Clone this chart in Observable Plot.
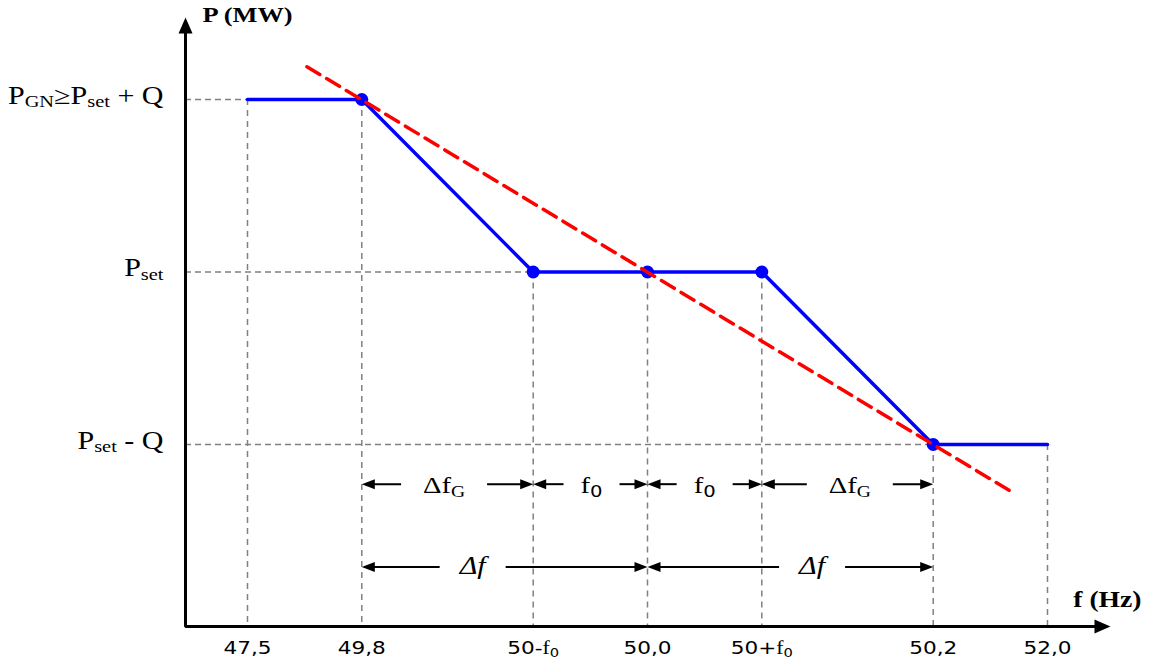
<!DOCTYPE html>
<html><head><meta charset="utf-8">
<script src="https://cdn.jsdelivr.net/npm/d3@7"></script>
<script src="https://cdn.jsdelivr.net/npm/@observablehq/plot@0.6"></script>
<style>html,body{margin:0;padding:0;background:#fff;overflow:hidden}</style>
</head><body><div id="chart"></div>
<script>
// ---- data (schematic units) ----
const fLabels = ["47,5", "49,8", "50-f_0", "50,0", "50+f_0", "50,2", "52,0"];
const fPos = [0, 1, 2.5, 3.5, 4.5, 6, 7];          // schematic frequency positions
const curveP = [1, 1, 0, 0, 0, -1, -1];             // blue P(f) characteristic
const kneeIdx = [1, 2, 3, 4, 5];                    // dots on the characteristic
const pLevels = [1, 0, -1];
const pLabels = ["P_GN≥P_set + Q", "P_set", "P_set - Q"];
const droopF = [0.52, 6.7];                         // red dashed droop line
const droopP = [1.19, -1.28];
const dimFrom = [1, 2.5, 3.5, 4.5, 1, 3.5];
const dimTo = [2.5, 3.5, 4.5, 6, 3.5, 6];
const dimLabel = ["Δf_G", "f_0", "f_0", "Δf_G", "Δf", "Δf"];
const dimLabelAt = [1.72, 3.01, 4.0, 5.27, 1.97, 4.94];
const dimRow = [-1.23, -1.23, -1.23, -1.23, -1.71, -1.71];
const axisF = [-0.5425, 7.551];
const axisP = [-2.055, 1.475];
const yTitle = "P (MW)";
const xTitle = "f (Hz)";

// ---- layout ----
const W = 1150, H = 668;
const xDom = [0, 7], xRng = [247, 1047];
const yDom = [-1, 1], yRng = [444, 99];
const ux = (xDom[1] - xDom[0]) / (xRng[1] - xRng[0]);      // units per px (x)
const uy = (yDom[1] - yDom[0]) / (yRng[0] - yRng[1]);      // units per px (y)
const gapPx = {"Δf_G": 43, "f_0": 28, "Δf": 33};
const serif = "Liberation Serif, Times New Roman, serif";
const sans = "DejaVu Sans, Verdana, sans-serif";

const curve = fPos.map((f, i) => ({f, p: curveP[i]}));
const knees = kneeIdx.map(i => curve[i]);
const vGuides = curve.map(d => ({f: d.f, p1: d.p, p2: axisP[0]}));
const hGuides = pLevels.map(p => ({p, f1: axisF[0], f2: curve.find(d => d.p === p).f}));
const droop = droopF.map((f, i) => ({f, p: droopP[i]}));
const dims = dimFrom.map((a, i) => ({a, b: dimTo[i], label: dimLabel[i], at: dimLabelAt[i], row: dimRow[i], gap: gapPx[dimLabel[i]] * ux}));
const nub = 5 * ux;
const segs = dims.flatMap(d => [
  {x1: d.a + nub, x2: d.at - d.gap, y: d.row},
  {x1: d.at + d.gap, x2: d.b - nub, y: d.row}
]);
const heads = dims.flatMap(d => [{x: d.a, y: d.row, r: 180}, {x: d.b, y: d.row, r: 0}]);
const axisPath = [
  {f: axisF[1] - 10 * ux, p: axisP[0]},
  {f: axisF[0], p: axisP[0]},
  {f: axisF[0], p: axisP[1] - 10 * uy}
];
const axisHeads = [{x: axisF[1], y: axisP[0], r: 0}, {x: axisF[0], y: axisP[1], r: -90}];

const head = (L, Wd) => ({draw(ctx) { ctx.moveTo(0, 0); ctx.lineTo(-L, -Wd / 2); ctx.lineTo(-L, Wd / 2); ctx.closePath(); }});

const plot = Plot.plot({
  width: W, height: H,
  marginLeft: 0, marginRight: 0, marginTop: 0, marginBottom: 0,
  x: {domain: xDom, range: xRng, axis: null},
  y: {domain: yDom, range: yRng, axis: null},
  style: {background: "#fff"},
  marks: [
    // guides
    Plot.ruleX(vGuides, {x: "f", y1: "p1", y2: "p2", stroke: "#808080", strokeWidth: 1.5, strokeDasharray: "6,5"}),
    Plot.ruleY(hGuides, {y: "p", x1: "f1", x2: "f2", stroke: "#808080", strokeWidth: 1.5, strokeDasharray: "6,4"}),
    // dimension arrows
    Plot.link(segs, {x1: "x1", x2: "x2", y1: "y", y2: "y", stroke: "#000", strokeWidth: 2}),
    Plot.dot(heads, {x: "x", y: "y", rotate: "r", symbol: head(13, 10), r: 5, fill: "#000", stroke: "none"}),
    Plot.text(dims.filter(d => d.label !== "Δf"), {x: "at", y: "row", text: "label", textAnchor: "middle", lineAnchor: "bottom", dy: 9, fontFamily: serif, fontSize: 24, fill: "#000"}),
    Plot.text(dims.filter(d => d.label === "Δf"), {x: "at", y: "row", text: "label", textAnchor: "middle", lineAnchor: "bottom", dy: 7, fontFamily: serif, fontStyle: "italic", fontSize: 25, fill: "#000"}),
    // characteristic
    Plot.line(curve, {x: "f", y: "p", stroke: "#0000ff", strokeWidth: 3.5}),
    Plot.dot(knees, {x: "f", y: "p", r: 6.5, fill: "#0000ff", stroke: "none"}),
    Plot.line(droop, {x: "f", y: "p", stroke: "#ff0000", strokeWidth: 3.5, strokeDasharray: "15,8"}),
    // axes
    Plot.line(axisPath, {x: "f", y: "p", stroke: "#000", strokeWidth: 3, strokeLinejoin: "miter"}),
    Plot.dot(axisHeads, {x: "x", y: "y", rotate: "r", symbol: head(16, 14), r: 5, fill: "#000", stroke: "none"}),
    // axis labels
    Plot.text(fPos, {x: d => d, y: () => axisP[0], text: (d, i) => fLabels[i], textAnchor: "middle", lineAnchor: "bottom", dy: 28, fontFamily: sans, fontSize: 18, fill: "#000"}),
    Plot.text(pLevels, {x: () => axisF[0], y: d => d, text: (d, i) => pLabels[i], textAnchor: "end", lineAnchor: "bottom", dx: -22, dy: 4, fontFamily: serif, fontSize: 25, fill: "#000"}),
    Plot.text([yTitle], {x: () => axisF[0], y: () => axisP[1], text: d => d, textAnchor: "start", lineAnchor: "bottom", dx: 17, dy: 4, fontFamily: serif, fontWeight: "bold", fontSize: 22, fill: "#000"}),
    Plot.text([xTitle], {x: () => axisF[1], y: () => axisP[0], text: d => d, textAnchor: "end", lineAnchor: "bottom", dx: 31, dy: -19, fontFamily: serif, fontWeight: "bold", fontSize: 23, fill: "#000"})
  ]
});

// rich text: "_xx" -> subscript; in sans labels the letter f is set in serif
const NS = "http://www.w3.org/2000/svg";
d3.select(plot).selectAll("text").each(function () {
  const el = this;
  const s = el.textContent;
  const fsEl = el.closest("[font-size]");
  const base = fsEl ? parseFloat(fsEl.getAttribute("font-size")) : 20;
  const ffEl = el.closest("[font-family]");
  const fam = ffEl ? ffEl.getAttribute("font-family") : "";
  const isSans = /DejaVu Sans/.test(fam);
  const tr = el.getAttribute("transform");
  if (tr) el.setAttribute("transform", tr + " scale(1.2,1)");
  if (!/_/.test(s) && !(isSans && /f/.test(s))) return;
  el.textContent = "";
  const shift = base * 0.14;
  let down = false;
  const add = (txt, opts) => {
    const t = document.createElementNS(NS, "tspan");
    t.textContent = txt;
    if (opts.size) t.setAttribute("font-size", opts.size);
    if (opts.family) t.setAttribute("font-family", opts.family);
    if (opts.dy) t.setAttribute("dy", opts.dy);
    el.appendChild(t);
  };
  const re = /_([A-Za-z0-9]+)|[^_]+/g;
  let m;
  while ((m = re.exec(s))) {
    if (m[1]) {
      add(m[1], {size: base * 0.68, family: /^[0-9]+$/.test(m[1]) ? sans : null, dy: down ? null : shift});
      down = true;
    } else {
      const parts = isSans ? m[0].split(/(f)/).filter(x => x) : [m[0]];
      parts.forEach(p => {
        add(p, {family: (isSans && p === "f") ? serif : null, dy: down ? -shift : null});
        down = false;
      });
    }
  }
});

document.getElementById("chart").appendChild(plot);
</script>
</body></html>
